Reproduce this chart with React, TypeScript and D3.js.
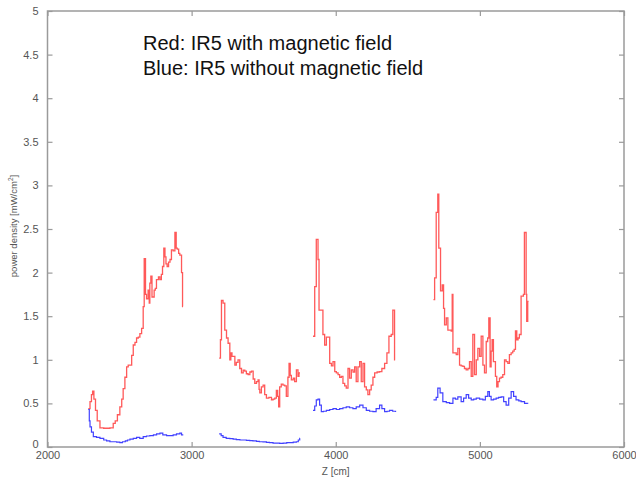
import React, { useRef, useEffect } from "react";
import * as d3 from "d3";

type Pt = [number, number];

// red: IR5 with magnetic field (z [cm], mW/cm^2)
const red1: Pt[] = [
    [2283, 0.44], [2295, 0.52], [2305, 0.6], [2313, 0.64], [2322, 0.55], [2333, 0.42], [2345, 0.3],
    [2364, 0.22], [2390, 0.215], [2433, 0.22], [2456, 0.27], [2470, 0.3], [2485, 0.37], [2502, 0.46],
    [2515, 0.55], [2525, 0.67], [2537, 0.8], [2549, 0.92], [2560, 0.94], [2572, 0.94], [2584, 1.05],
    [2595, 1.17], [2607, 1.2], [2618, 1.25], [2630, 1.26], [2641, 1.3], [2653, 1.36], [2664, 1.61],
    [2671, 2.16], [2680, 1.75], [2687, 1.7], [2698, 1.8], [2706, 1.65], [2710, 1.88], [2717, 1.96],
    [2725, 1.72], [2740, 1.8], [2748, 1.82], [2756, 1.92], [2770, 1.95], [2780, 1.92], [2790, 1.98],
    [2798, 2.07], [2807, 2.28], [2815, 2.18], [2822, 2.1], [2830, 2.07], [2840, 2.12], [2850, 2.15],
    [2860, 2.26], [2872, 2.25], [2884, 2.46], [2893, 2.28], [2900, 2.27], [2910, 2.22], [2918, 2.2],
    [2930, 2.0], [2937, 1.61], [2940, 1.61],
];
const red2: Pt[] = [
    [3191, 1.02], [3200, 1.23], [3207, 1.68], [3218, 1.65], [3230, 1.34], [3242, 1.25], [3253, 1.19],
    [3265, 1.0], [3272, 1.08], [3280, 1.04], [3300, 0.94], [3310, 0.97], [3322, 1.0], [3334, 0.9],
    [3346, 0.85], [3358, 0.88], [3369, 0.87], [3380, 0.84], [3392, 0.83], [3404, 0.86], [3415, 0.87],
    [3427, 0.78], [3438, 0.73], [3450, 0.75], [3461, 0.77], [3468, 0.66], [3473, 0.62], [3484, 0.69],
    [3496, 0.71], [3507, 0.6], [3519, 0.56], [3536, 0.57], [3554, 0.54], [3565, 0.55], [3577, 0.56],
    [3588, 0.65], [3597, 0.58], [3604, 0.46], [3611, 0.69], [3622, 0.72], [3634, 0.71], [3646, 0.7],
    [3657, 0.58], [3668, 0.8], [3676, 0.96], [3684, 0.82], [3692, 0.77], [3705, 0.79], [3715, 0.75],
    [3727, 0.885], [3738, 0.81], [3745, 0.85], [3752, 0.85],
];
const red3: Pt[] = [
    [3842, 1.27], [3854, 1.84], [3865, 2.38], [3877, 2.15], [3884, 1.57], [3900, 1.57], [3911, 1.29],
    [3923, 1.17], [3935, 1.26], [3954, 1.26], [3958, 0.96], [3970, 0.93], [3981, 0.98], [3993, 0.865],
    [4004, 0.85], [4016, 0.83], [4027, 0.8], [4039, 0.81], [4050, 0.73], [4062, 0.7], [4073, 0.675],
    [4085, 0.9], [4096, 0.79], [4108, 0.885], [4120, 0.86], [4131, 0.92], [4142, 0.75], [4154, 0.92],
    [4166, 0.98], [4177, 0.75], [4189, 0.96], [4200, 0.69], [4212, 0.655], [4223, 0.6], [4235, 0.655],
    [4246, 0.71], [4258, 0.8], [4270, 0.85], [4287, 0.86], [4304, 0.865], [4320, 0.9], [4339, 0.96],
    [4355, 1.08], [4369, 1.27], [4385, 1.29], [4396, 1.57], [4408, 1.0], [4412, 1.0],
];
const red4: Pt[] = [
    [4678, 1.69], [4686, 1.94], [4697, 2.69], [4708, 2.9], [4715, 2.28], [4727, 1.79], [4739, 1.86],
    [4748, 1.59], [4755, 1.4], [4767, 1.48], [4778, 1.34], [4801, 1.33], [4808, 1.75], [4813, 1.08],
    [4836, 1.06], [4847, 1.13], [4859, 0.94], [4870, 0.93], [4882, 0.925], [4893, 0.9], [4905, 0.885],
    [4917, 0.9], [4928, 0.98], [4940, 0.81], [4951, 1.29], [4963, 0.83], [4975, 1.0], [4986, 1.13],
    [4998, 1.04], [5009, 1.27], [5021, 0.94], [5032, 0.85], [5044, 1.21], [5054, 1.25], [5062, 1.48],
    [5071, 0.92], [5078, 1.1], [5085, 1.23], [5094, 0.98], [5108, 0.81], [5117, 0.69], [5126, 0.75],
    [5136, 0.79], [5147, 0.8], [5159, 0.83], [5171, 1.0], [5182, 0.98], [5194, 0.96], [5205, 1.06],
    [5217, 1.08], [5228, 1.1], [5238, 1.12], [5247, 1.33], [5256, 1.23], [5265, 1.25], [5274, 1.29],
    [5286, 1.73], [5302, 1.75], [5309, 2.46], [5321, 1.75], [5325, 1.44], [5332, 1.67], [5338, 1.67],
];

// blue: IR5 without magnetic field
const blue1: Pt[] = [
    [2283, 0.43], [2290, 0.3], [2295, 0.23], [2305, 0.17], [2318, 0.12], [2340, 0.11], [2364, 0.1],
    [2390, 0.08], [2410, 0.07], [2433, 0.06], [2460, 0.06], [2480, 0.055], [2502, 0.05], [2520, 0.06],
    [2540, 0.07], [2555, 0.08], [2572, 0.09], [2595, 0.1], [2618, 0.11], [2640, 0.1], [2664, 0.12],
    [2687, 0.126], [2710, 0.13], [2735, 0.14], [2757, 0.15], [2780, 0.16], [2800, 0.14], [2826, 0.13],
    [2850, 0.13], [2872, 0.14], [2895, 0.15], [2918, 0.16], [2930, 0.14], [2942, 0.14],
];
const blue2: Pt[] = [
    [3191, 0.15], [3205, 0.13], [3218, 0.11], [3240, 0.1], [3265, 0.095], [3288, 0.09], [3310, 0.085],
    [3335, 0.08], [3360, 0.08], [3380, 0.075], [3403, 0.073], [3425, 0.07], [3450, 0.065], [3470, 0.06],
    [3495, 0.058], [3519, 0.054], [3540, 0.05], [3565, 0.045], [3590, 0.044], [3611, 0.042], [3635, 0.045],
    [3660, 0.05], [3681, 0.05], [3705, 0.055], [3727, 0.06], [3740, 0.08], [3750, 0.1], [3752, 0.1],
];
const blue3: Pt[] = [
    [3842, 0.42], [3854, 0.47], [3865, 0.54], [3877, 0.55], [3888, 0.48], [3900, 0.405], [3915, 0.41],
    [3935, 0.42], [3958, 0.43], [3981, 0.44], [4004, 0.43], [4027, 0.44], [4050, 0.45], [4073, 0.46],
    [4096, 0.45], [4119, 0.44], [4142, 0.46], [4166, 0.48], [4189, 0.45], [4212, 0.42], [4235, 0.41],
    [4258, 0.405], [4280, 0.44], [4304, 0.48], [4320, 0.44], [4339, 0.405], [4356, 0.41], [4373, 0.42],
    [4395, 0.41], [4415, 0.4],
];
const blue4: Pt[] = [
    [4678, 0.54], [4697, 0.57], [4708, 0.675], [4724, 0.62], [4743, 0.52], [4767, 0.51], [4790, 0.5],
    [4813, 0.56], [4830, 0.55], [4847, 0.575], [4870, 0.52], [4887, 0.56], [4905, 0.6], [4922, 0.56],
    [4940, 0.54], [4957, 0.55], [4975, 0.56], [4998, 0.55], [5021, 0.54], [5038, 0.58], [5055, 0.635],
    [5066, 0.58], [5078, 0.54], [5095, 0.55], [5113, 0.56], [5130, 0.57], [5147, 0.575], [5165, 0.52],
    [5182, 0.48], [5200, 0.56], [5217, 0.635], [5234, 0.58], [5251, 0.54], [5270, 0.53], [5286, 0.52],
    [5310, 0.5], [5332, 0.495],
];

const redSegments = [red1, red2, red3, red4];
const blueSegments = [blue1, blue2, blue3, blue4];

const xTicks = [2000, 3000, 4000, 5000, 6000];
const yTicks = [0, 0.5, 1, 1.5, 2, 2.5, 3, 3.5, 4, 4.5, 5];

const notes = ["Red: IR5 with magnetic field", "Blue: IR5 without magnetic field"];

export default function App() {
    const svgRef = useRef<SVGSVGElement | null>(null);

    useEffect(() => {
        if (!svgRef.current) return;

        const width = 636;
        const height = 477;
        const margin = { top: 11, right: 12, bottom: 30, left: 47.5 };
        const font = "Liberation Sans, Arial, sans-serif";
        const grey = "#9a9a9a";

        const svg = d3.select(svgRef.current);
        svg.selectAll("*").remove();

        const x = d3
            .scaleLinear()
            .domain([2000, 6000])
            .range([margin.left, width - margin.right]);

        const y = d3
            .scaleLinear()
            .domain([0, 5])
            .range([height - margin.bottom, margin.top]);

        const lineGen = d3
            .line<Pt>()
            .x((d) => x(d[0]))
            .y((d) => y(d[1]))
            .curve(d3.curveStepAfter);

        // frame
        svg.append("rect")
            .attr("x", x(2000))
            .attr("y", y(5))
            .attr("width", x(6000) - x(2000))
            .attr("height", y(0) - y(5))
            .attr("fill", "none")
            .attr("stroke", grey)
            .attr("stroke-width", 1.5);

        const styleAxis = (g: d3.Selection<SVGGElement, unknown, null, undefined>) => {
            g.select(".domain").remove();
            g.selectAll("line").attr("stroke", grey).attr("stroke-width", 1.2);
            g.selectAll("text")
                .attr("fill", "#555")
                .style("font-family", font)
                .style("font-size", "11px");
        };

        svg.append("g")
            .attr("transform", `translate(0,${y(0)})`)
            .call(d3.axisBottom(x).tickValues(xTicks).tickFormat(d3.format("d")).tickSizeInner(-5).tickPadding(4))
            .call(styleAxis);

        svg.append("g")
            .attr("transform", `translate(0,${y(5)})`)
            .call(d3.axisTop(x).tickValues(xTicks).tickFormat(() => "").tickSizeInner(-5))
            .call(styleAxis);

        const yAxisG = svg.append("g")
            .attr("transform", `translate(${x(2000)},0)`)
            .call(d3.axisLeft(y).tickValues(yTicks).tickFormat(d3.format("")).tickSizeInner(-5).tickPadding(9))
            .call(styleAxis);
        // lift the "0" label a little so it sits just above "2000", as in the original
        yAxisG.selectAll<SVGTextElement, number>("text")
            .filter((d) => d === 0)
            .attr("dy", "0.05em");

        svg.append("g")
            .attr("transform", `translate(${x(6000)},0)`)
            .call(d3.axisRight(y).tickValues(yTicks).tickFormat(() => "").tickSizeInner(-5))
            .call(styleAxis);

        redSegments.forEach((seg) => {
            svg.append("path")
                .datum(seg)
                .attr("fill", "none")
                .attr("stroke", "#ff3030")
                .attr("stroke-opacity", 0.8)
                .attr("stroke-width", 1.3)
                .attr("d", lineGen);
        });

        blueSegments.forEach((seg) => {
            svg.append("path")
                .datum(seg)
                .attr("fill", "none")
                .attr("stroke", "#2020ff")
                .attr("stroke-opacity", 0.85)
                .attr("stroke-width", 1.2)
                .attr("d", lineGen);
        });

        // axis labels
        svg.append("text")
            .attr("x", (x(2000) + x(6000)) / 2)
            .attr("y", 475)
            .attr("text-anchor", "middle")
            .attr("fill", "#555")
            .style("font-family", font)
            .style("font-size", "10px")
            .text("Z [cm]");

        const yl = svg.append("text")
            .attr("transform", `translate(17,${y(2.5) - 3}) rotate(-90)`)
            .attr("text-anchor", "middle")
            .attr("fill", "#555")
            .style("font-family", font)
            .style("font-size", "9.5px");
        yl.append("tspan").text("power density [mW/cm");
        yl.append("tspan").attr("dy", -4).style("font-size", "6.5px").text("2");
        yl.append("tspan").attr("dy", 4).text("]");

        notes.forEach((t, i) => {
            svg.append("text")
                .attr("x", 143)
                .attr("y", 50 + i * 25)
                .attr("fill", "#111")
                .style("font-family", font)
                .style("font-size", "20px")
                .text(t);
        });
    }, []);

    return (
        <svg
            ref={svgRef}
            width={636}
            height={477}
            style={{ position: "absolute", left: 0, top: 0, background: "#fff" }}
        ></svg>
    );
}
